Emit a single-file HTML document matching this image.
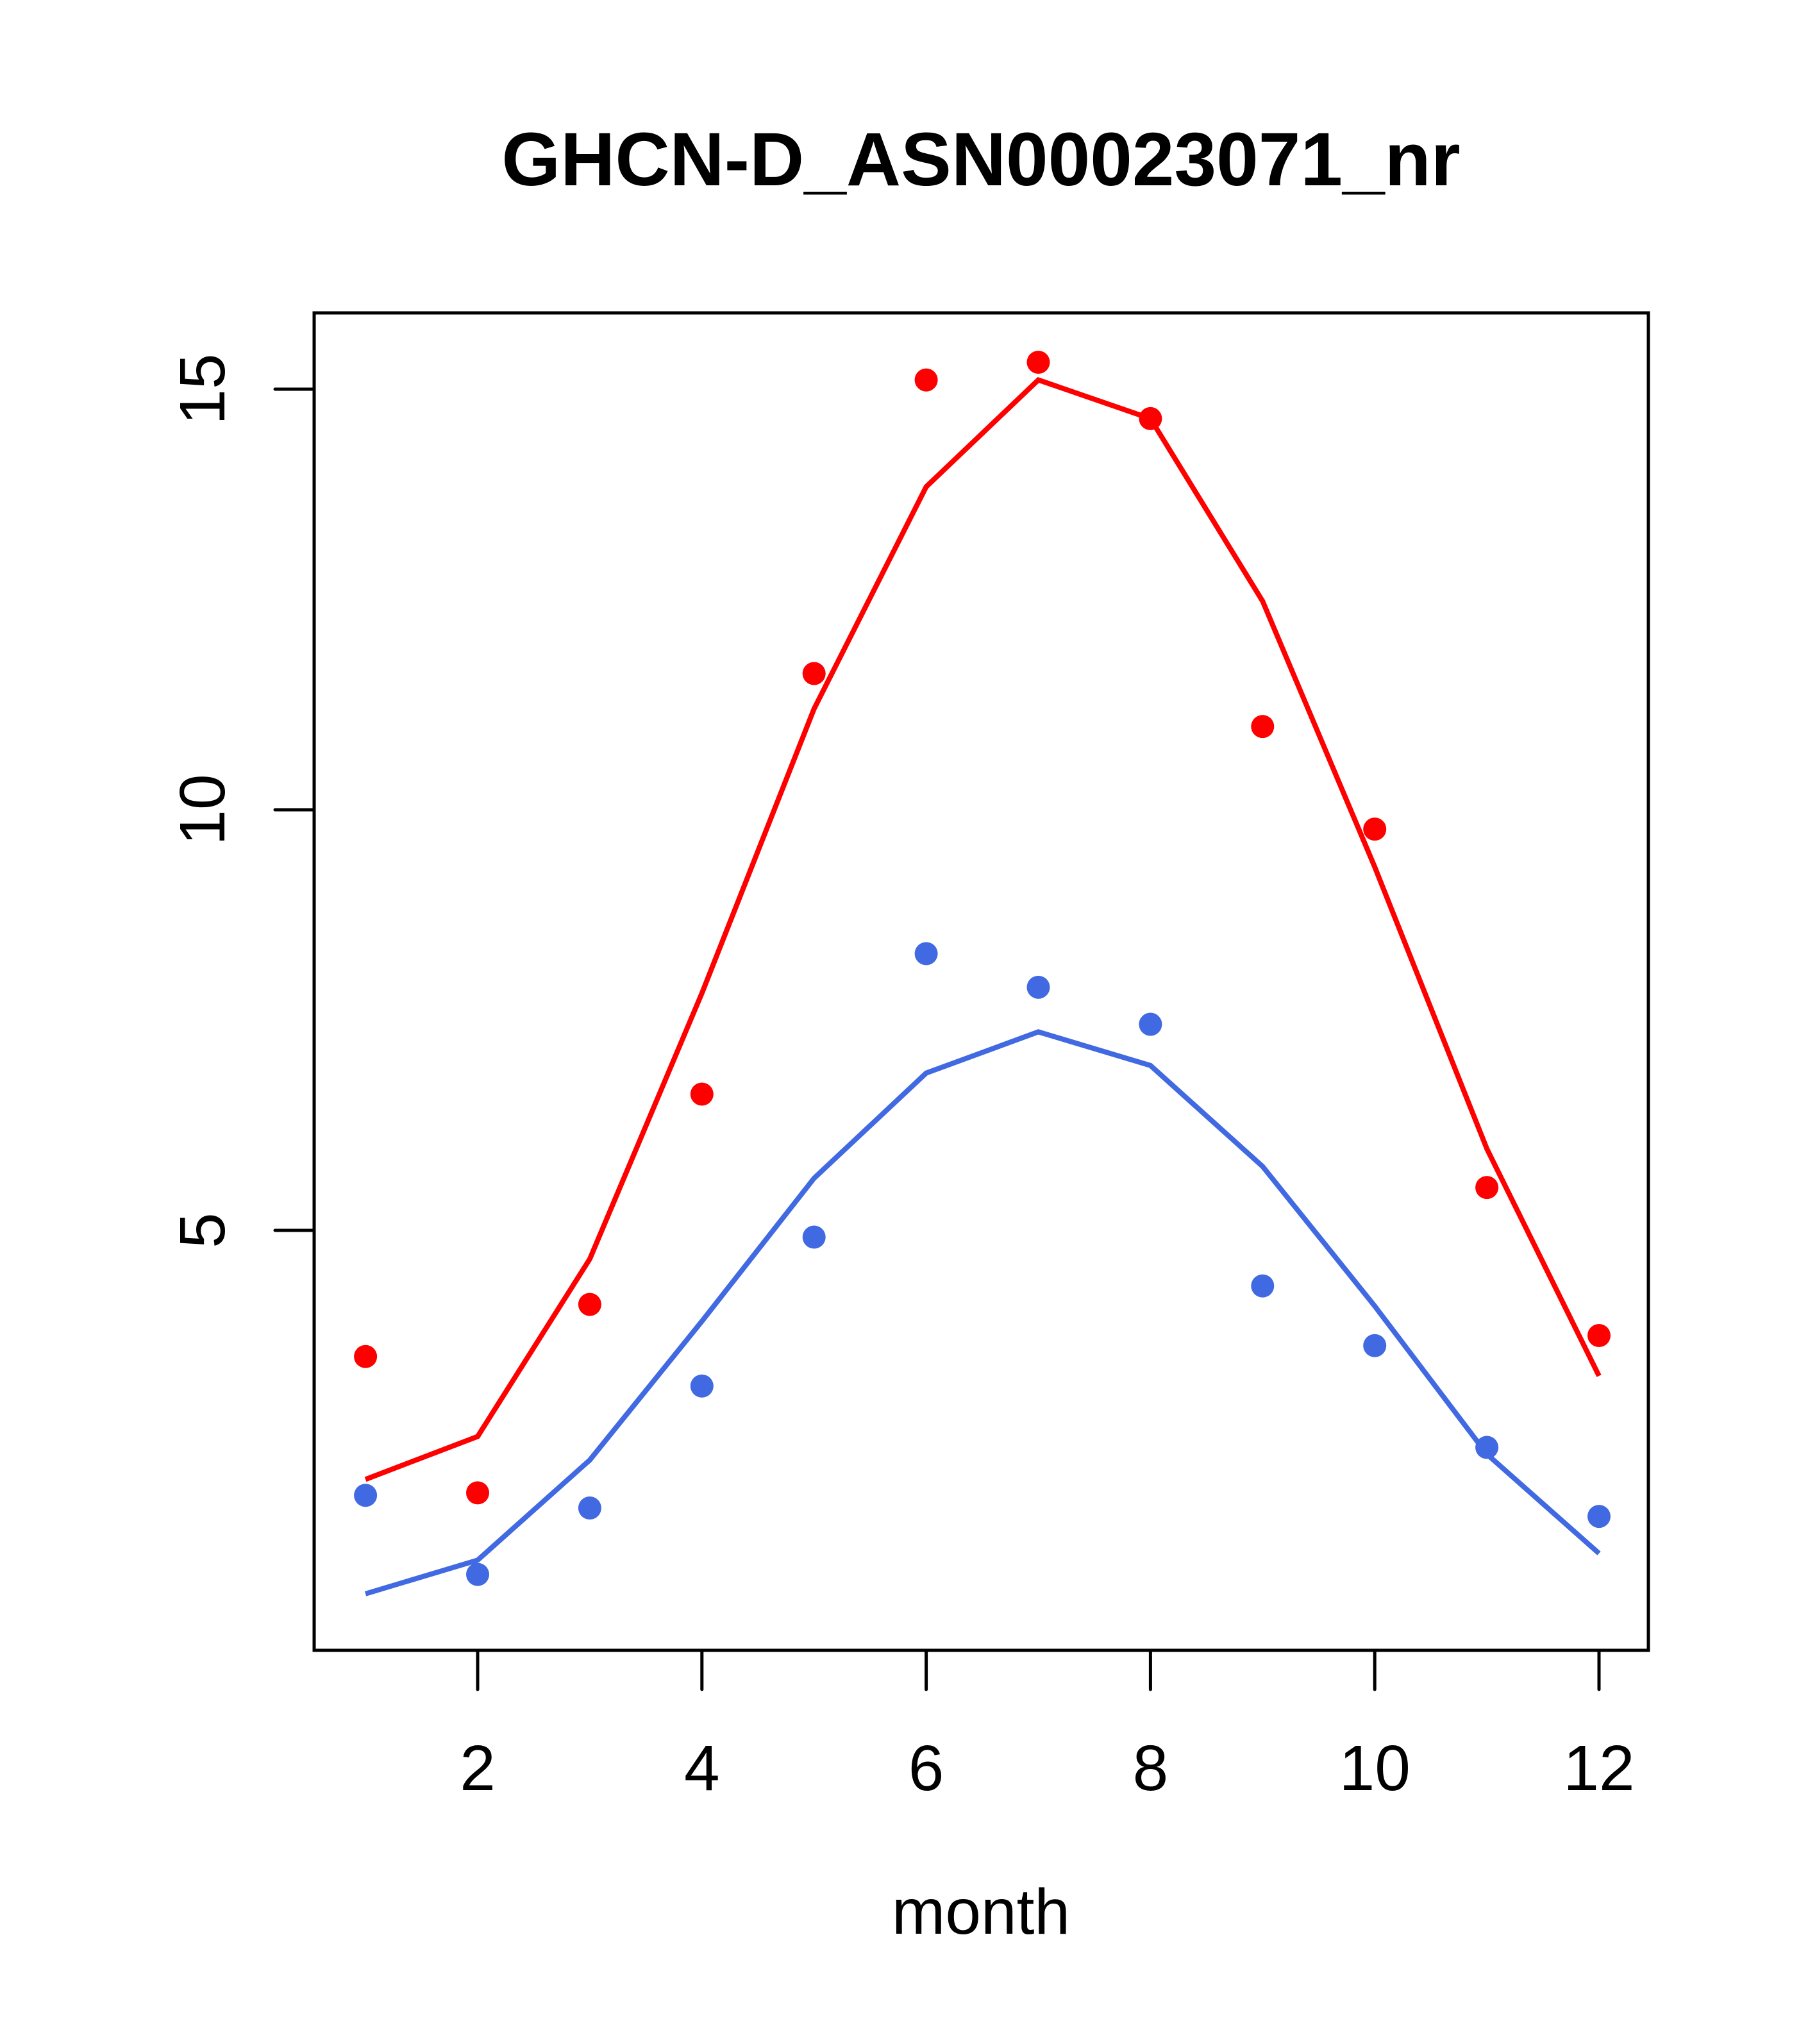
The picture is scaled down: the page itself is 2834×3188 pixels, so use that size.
<!DOCTYPE html>
<html><head><meta charset="utf-8"><style>html,body{margin:0;padding:0;background:#fff}svg{display:block}</style></head>
<body>
<svg id="chart" width="2834" height="3188" viewBox="0 0 2834 3188" xmlns="http://www.w3.org/2000/svg" font-family="Liberation Sans, sans-serif">
<rect width="2834" height="3188" fill="#fff"/>
<text x="1530" y="289" font-size="118" font-weight="bold" text-anchor="middle">GHCN-D_ASN00023071_nr</text>
<text x="1530" y="3016" font-size="100" text-anchor="middle">month</text>
<rect x="490" y="488" width="2081" height="2086" fill="none" stroke="#000" stroke-width="5"/>
<g id="g"></g>
</svg>
<script>
const months=[1,2,3,4,5,6,7,8,9,10,11,12];
const redPoints=[3.50,1.88,4.12,6.62,11.62,15.11,15.32,14.65,10.99,9.77,5.51,3.75];
const redLine=[2.04,2.55,4.66,7.82,11.20,13.84,15.11,14.65,12.48,9.32,5.97,3.27];
const bluePoints=[1.85,0.91,1.70,3.15,4.92,8.29,7.89,7.45,4.34,3.63,2.42,1.60];
const blueLine=[0.68,1.08,2.27,3.92,5.62,6.87,7.36,6.96,5.76,4.10,2.34,1.16];
const xTicks=[2,4,6,8,10,12];
const yTicks=[5,10,15];
const NS='http://www.w3.org/2000/svg';
const g=document.getElementById('g');
function X(m){return 745+(m-2)*174.9;}
function Y(v){return 1919-(v-5)*131.2;}
function mk(t,a){const e=document.createElementNS(NS,t);for(const k in a)e.setAttribute(k,a[k]);g.appendChild(e);return e;}
xTicks.forEach(t=>{
 const l=mk('line',{x1:X(t),x2:X(t),y1:2574,y2:2635,stroke:'#000','stroke-width':5,'stroke-linecap':'round'});
 
 
 const s=mk('text',{x:X(t),y:2792,'font-size':100,'text-anchor':'middle'});s.textContent=t;
 
 
});
yTicks.forEach(t=>{
 const l=mk('line',{x1:490,x2:429,y1:Y(t),y2:Y(t),stroke:'#000','stroke-width':5,'stroke-linecap':'round'});
 
 
 const s=mk('text',{x:0,y:0,'font-size':100,'text-anchor':'middle',transform:`translate(350,${Y(t)}) rotate(-90)`});s.textContent=t;
 
 
});
function series(line,pts,col,name){
 const p=mk('polyline',{points:months.map((m,i)=>X(m)+','+Y(line[i])).join(' '),fill:'none',stroke:col,'stroke-width':8});
 
 
 months.forEach((m,i)=>{
  const c=mk('circle',{cx:X(m),cy:Y(pts[i]),r:18,fill:col});
  
  
 });
}
series(redLine,redPoints,'#ff0000','red');
series(blueLine,bluePoints,'#4169e1','blue');
</script>
</body></html>
